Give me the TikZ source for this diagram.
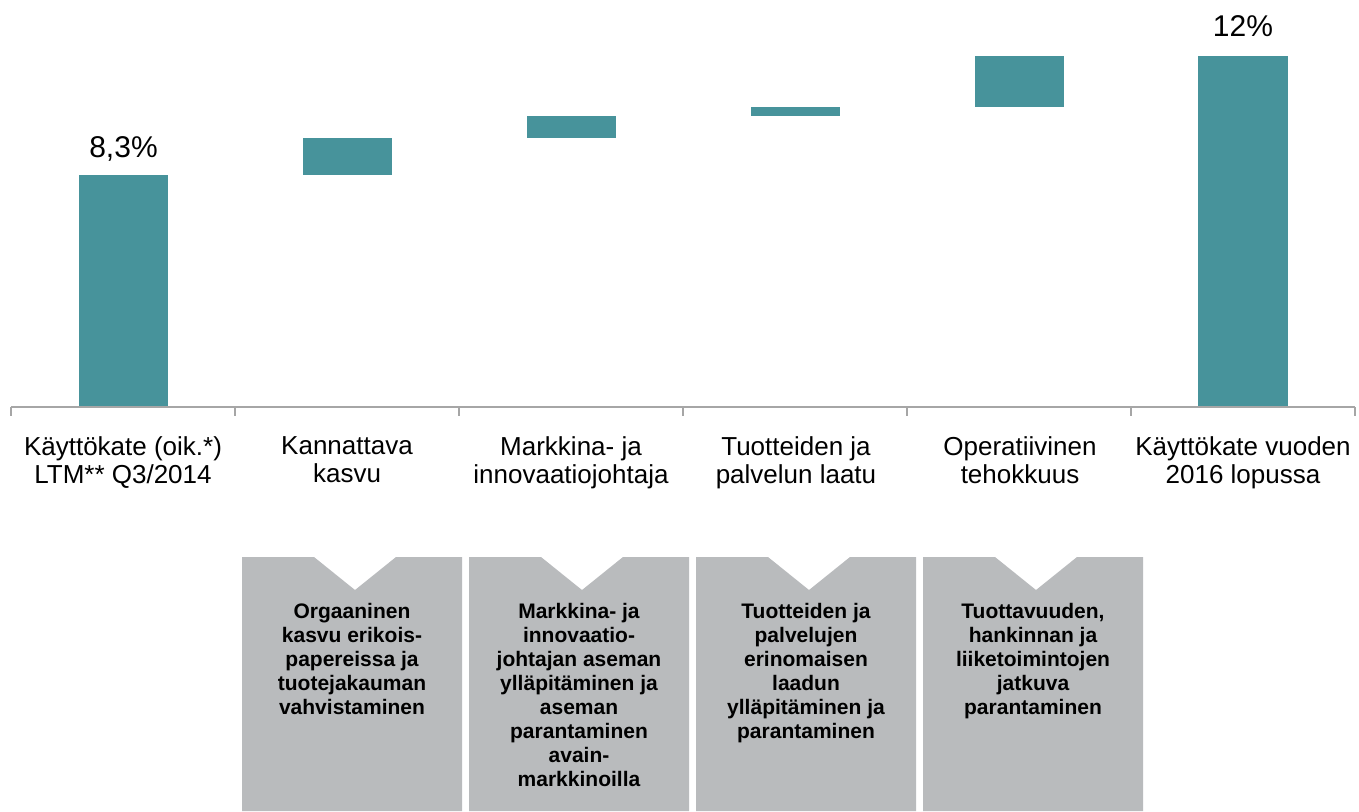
\documentclass[tikz,border=0pt]{standalone}
\usepackage{fontspec}
\setmainfont{Liberation Sans}
\definecolor{tealbar}{HTML}{47939B}
\definecolor{boxgray}{HTML}{B9BBBD}
\definecolor{axisgray}{HTML}{A6A6A6}
\begin{document}
\begin{tikzpicture}[x=1pt,y=-1pt,
  bar/.style={fill=tealbar},
  axisline/.style={draw=axisgray,line width=1.5pt},
  catlabel/.style={anchor=north,inner sep=0pt,align=center,font=\fontsize{26}{28.5}\selectfont},
  vallabel/.style={anchor=base,inner sep=0pt,font=\fontsize{30}{36}\selectfont},
  infobox/.style={fill=boxgray},
  infotext/.style={anchor=north,inner sep=0pt,align=center,font=\fontsize{21}{24}\selectfont\bfseries}]
\useasboundingbox (0,0) rectangle (1359,811);

% bars
\path[bar] (79,175) rectangle (168,407);
\path[bar] (303,138) rectangle (392,175);
\path[bar] (527,116) rectangle (616,138);
\path[bar] (751,107) rectangle (840,116);
\path[bar] (975,56) rectangle (1064,107);
\path[bar] (1198,56) rectangle (1288,407);

% axis
\coordinate (axL) at (11,407);
\coordinate (axR) at (1355,407);
\draw[axisline] (axL) -- (axR);
\foreach \tx in {11,235,459,683,907,1131,1355}
  \draw[axisline] (\tx,407) -- (\tx,416);

% value labels
\node[vallabel] (v1) at (123.5,157) {8,3\%};
\node[vallabel] (v6) at (1243,36) {12\%};

% category labels
\node[catlabel] (c1) at (123,436) {Käyttökate (oik.*)\\LTM** Q3/2014};
\node[catlabel] (c2) at (347,436) {Kannattava\\kasvu};
\node[catlabel] (c3) at (571,436) {Markkina- ja\\innovaatiojohtaja};
\node[catlabel] (c4) at (796,436) {Tuotteiden ja\\palvelun laatu};
\node[catlabel] (c5) at (1020,436) {Operatiivinen\\tehokkuus};
\node[catlabel] (c6) at (1243,436) {Käyttökate vuoden\\2016 lopussa};

% info boxes with notch
\foreach \L in {242,469,696,923}{
  \path[infobox] (\L,557) -- (\L+72,557) -- (\L+113,590) -- (\L+154,557)
     -- (\L+220,557) -- (\L+220,811) -- (\L,811) -- cycle;
}
\node[infotext] (b1) at (352,603) {Orgaaninen\\kasvu erikois-\\papereissa ja\\tuotejakauman\\vahvistaminen};
\node[infotext] (b2) at (579,603) {Markkina- ja\\innovaatio-\\johtajan aseman\\ylläpitäminen ja\\aseman\\parantaminen\\avain-\\markkinoilla};
\node[infotext] (b3) at (806,603) {Tuotteiden ja\\palvelujen\\erinomaisen\\laadun\\ylläpitäminen ja\\parantaminen};
\node[infotext] (b4) at (1033,603) {Tuottavuuden,\\hankinnan ja\\liiketoimintojen\\jatkuva\\parantaminen};
\end{tikzpicture}
\end{document}
